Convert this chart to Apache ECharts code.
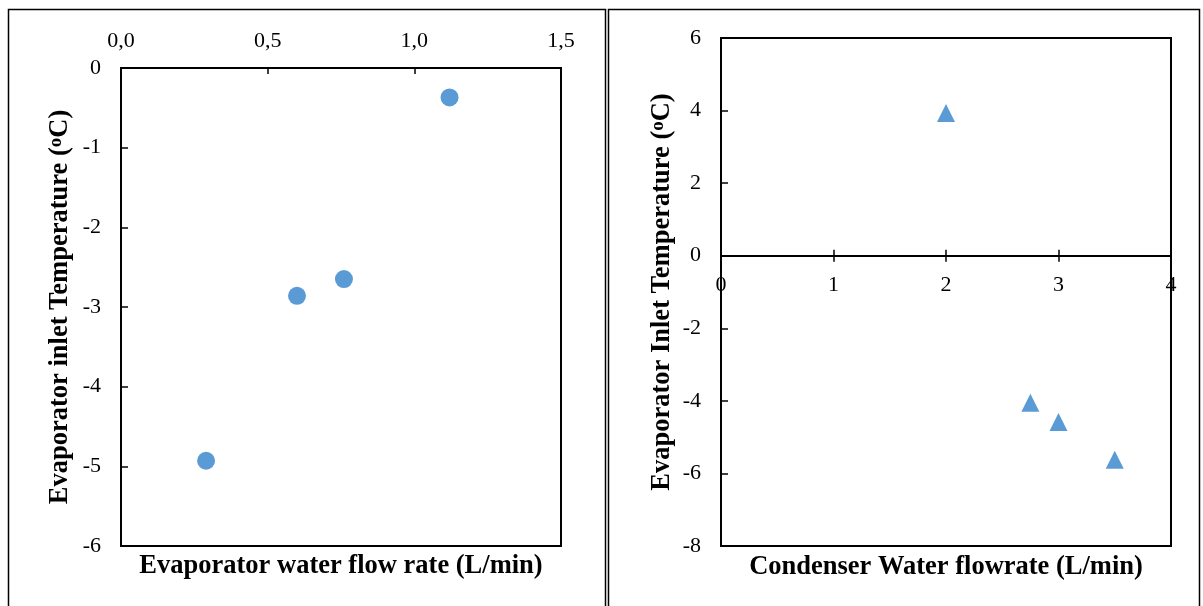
<!DOCTYPE html>
<html>
<head>
<meta charset="utf-8">
<script src="https://cdn.jsdelivr.net/npm/echarts@6/dist/echarts.min.js"></script>
<style>
  html, body { margin: 0; padding: 0; background: #fff; }
  #chart { width: 1203px; height: 606px; }
</style>
</head>
<body>
<div id="chart"></div>
<script>
// Evaporator water flow rate (L/min) vs evaporator inlet temperature (°C)
const evapFlow = [0.29, 0.60, 0.76, 1.12];
const evapInletTemp = [-4.93, -2.86, -2.65, -0.37];

// Condenser water flow rate (L/min) vs evaporator inlet temperature (°C)
const condFlow = [2.0, 2.75, 3.0, 3.5];
const condInletTemp = [3.93, -4.05, -4.58, -5.62];

const leftXTitle = 'Evaporator water flow rate (L/min)';
const rightXTitle = 'Condenser Water flowrate (L/min)';
const leftYTitle = 'Evaporator inlet Temperature ({o|o}C)';
const rightYTitle = 'Evaporator Inlet Temperature ({o|o}C)';

const FONT = '"Liberation Serif", "Times New Roman", serif';
const BLUE = '#5B9BD5';

const labelStyle = { color: '#000', fontFamily: FONT, fontSize: 22 };
const titleStyle = {
  color: '#000', fontFamily: FONT, fontSize: 26.5, fontWeight: 'bold',
  rich: { o: { color: '#000', fontFamily: FONT, fontSize: 19, fontWeight: 'bold', verticalAlign: 'top', lineHeight: 20 } }
};
const axisLine = { lineStyle: { color: '#000', width: 2 } };
const tick = (inside, length) => ({ inside: inside, length: length, lineStyle: { color: '#000', width: 1.5 } });

const chart = echarts.init(document.getElementById('chart'), null, { renderer: 'canvas' });

chart.setOption({
  backgroundColor: '#fff',
  animation: false,
  grid: [
    { left: 121, top: 68, width: 440, height: 478, show: true, borderColor: '#000', borderWidth: 2, backgroundColor: 'transparent' },
    { left: 721, top: 38, width: 450, height: 508, show: true, borderColor: '#000', borderWidth: 2, backgroundColor: 'transparent' }
  ],
  xAxis: [
    {
      gridIndex: 0, type: 'value', position: 'top', min: 0, max: 1.5, interval: 0.5,
      axisLine: Object.assign({ onZero: false }, axisLine),
      axisTick: tick(true, 6),
      axisLabel: Object.assign({ margin: 16, formatter: v => v.toFixed(1).replace('.', ',') }, labelStyle),
      splitLine: { show: false }
    },
    {
      // labelled axis drawn at temperature 0; lower half of the cross ticks
      gridIndex: 1, type: 'value', position: 'bottom', min: 0, max: 4, interval: 1,
      axisLine: Object.assign({ onZero: false }, axisLine),
      axisTick: tick(false, 6),
      axisLabel: Object.assign({ margin: 19 }, labelStyle),
      splitLine: { show: false }
    },
    {
      // upper half of the cross ticks
      gridIndex: 1, type: 'value', position: 'bottom', min: 0, max: 4, interval: 1,
      axisLine: Object.assign({ onZero: false }, axisLine),
      axisTick: tick(true, 6),
      axisLabel: { show: false },
      splitLine: { show: false }
    }
  ],
  yAxis: [
    {
      gridIndex: 0, type: 'value', min: -6, max: 0, interval: 1,
      name: leftYTitle, nameLocation: 'middle', nameGap: 47, nameTextStyle: titleStyle,
      axisLine: axisLine,
      axisTick: tick(true, 7),
      axisLabel: Object.assign({ margin: 20 }, labelStyle),
      splitLine: { show: false }
    },
    {
      gridIndex: 1, type: 'value', min: -8, max: 6, interval: 2,
      name: rightYTitle, nameLocation: 'middle', nameGap: 45, nameTextStyle: titleStyle,
      axisLine: Object.assign({ onZero: false }, axisLine),
      axisTick: tick(true, 7),
      axisLabel: Object.assign({ margin: 20 }, labelStyle),
      splitLine: { show: false }
    }
  ],
  series: [
    {
      type: 'scatter', xAxisIndex: 0, yAxisIndex: 0,
      symbol: 'circle', symbolSize: 18,
      itemStyle: { color: BLUE, opacity: 1 },
      data: evapFlow.map((x, i) => [x, evapInletTemp[i]])
    },
    {
      type: 'scatter', xAxisIndex: 1, yAxisIndex: 1,
      symbol: 'triangle', symbolSize: 18,
      itemStyle: { color: BLUE, opacity: 1 },
      data: condFlow.map((x, i) => [x, condInletTemp[i]])
    }
  ],
  graphic: [
    // panel frames
    { type: 'rect', shape: { x: 8.5, y: 9.5, width: 597, height: 640 }, style: { fill: 'none', stroke: '#000', lineWidth: 1.5 } },
    { type: 'rect', shape: { x: 608.5, y: 9.5, width: 591, height: 640 }, style: { fill: 'none', stroke: '#000', lineWidth: 1.5 } },
    // horizontal axis titles below the plot areas
    { type: 'text', x: 341, y: 566, style: { text: leftXTitle, x: 0, y: 0, textAlign: 'center', textVerticalAlign: 'middle', fill: '#000', font: 'bold 26.5px ' + FONT } },
    { type: 'text', x: 946, y: 567, style: { text: rightXTitle, x: 0, y: 0, textAlign: 'center', textVerticalAlign: 'middle', fill: '#000', font: 'bold 26.5px ' + FONT } }
  ]
});

// Move the condenser flow-rate axis up to the 0 °C level of its temperature axis
const zeroPx = chart.convertToPixel({ yAxisIndex: 1 }, 0);
const floorPx = chart.convertToPixel({ yAxisIndex: 1 }, -8);
const shift = zeroPx - floorPx;
chart.setOption({ xAxis: [{}, { offset: shift }, { offset: shift }] });
</script>
</body>
</html>
